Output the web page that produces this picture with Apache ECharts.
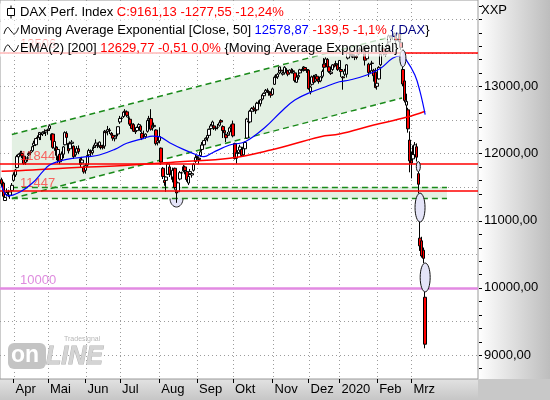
<!DOCTYPE html>
<html><head><meta charset="utf-8">
<script src="https://cdn.jsdelivr.net/npm/echarts@6/dist/echarts.min.js"></script>
<style>html,body{margin:0;padding:0;background:#fff}#c{width:550px;height:400px}</style>
</head><body><div id="c"></div>
<script>
// ---- Daily candles, 21 Mar 2019 .. 12 Mar 2020 (index 0..247) ----
const opens = [
11610,11560,11300,11390,11430,11380,11450,
11600,11680,11790,11950,11990,12000,11960,11870,11930,11980,12010,12040,12120,12130,12240,12240,12290,12290,12320,12320,
12350,12370,12200,12290,12080,12090,11960,11990,11910,11990,12130,12300,12150,12070,12150,12110,11980,12020,12070,11920,11860,11790,
11750,11830,11980,12030,12010,12090,12120,12130,12100,12120,12100,12110,12320,12330,12350,12300,12270,12220,12260,12290,
12470,12520,12550,12620,12620,12540,12510,12440,12430,12340,12340,12390,12410,12300,12260,12250,12330,12500,12520,12380,12400,12350,12160,
12190,12080,11780,11600,11600,11690,11800,11690,11650,11780,11460,11430,11620,11710,11740,11800,11730,11560,11700,11680,11750,11880,
11940,11930,11970,12060,12130,12200,12230,12270,12370,12420,12410,12370,12390,12420,12490,12400,12340,12280,12270,12320,12390,
12440,12150,11930,12000,12050,12060,11980,12070,12230,12470,12470,12630,12680,12650,12650,12750,12740,12810,12860,12910,12940,12920,12900,
12880,13030,13130,13140,13200,13240,13180,13200,13240,13230,13200,13240,13230,13200,13060,13140,13200,13240,13240,13280,13250,
13240,12920,13030,13140,13080,13150,13100,13080,13150,13330,13340,13400,13290,13190,13250,13320,13330,13320,
13280,13250,13140,13180,13180,13420,13500,13480,13470,13440,13450,13480,13530,13540,13550,13490,13410,13330,13230,13340,13240,13210,
13000,13110,13320,13500,13560,13470,13530,13660,13720,13760,13760,13750,13710,13780,13650,13250,13080,12720,12650,12200,
11900,11920,11980,12100,11700,10740,10700,10560,9860];
const closes = [
11549,11364,11346,11420,11419,11428,11526,
11682,11754,11954,11988,12010,11963,11850,11905,11935,11999,12020,12101,12153,12222,12235,12313,12282,12315,12328,12344,
12345,12412,12286,12092,12179,11973,12059,11876,11991,12099,12310,12239,12041,12143,12169,11952,12011,12071,12027,11837,11903,11727,
11820,11971,12043,12009,12045,12097,12155,12115,12169,12096,12086,12331,12309,12355,12340,12274,12228,12245,12271,12399,
12521,12526,12616,12629,12568,12543,12437,12373,12332,12323,12387,12430,12341,12227,12260,12289,12490,12522,12362,12419,12418,12147,12189,
12253,11872,11658,11568,11650,11845,11694,11680,11750,11493,11412,11563,11715,11712,11802,11747,11612,11658,11730,11701,11838,11939,
11953,11911,12025,12126,12192,12226,12268,12360,12410,12469,12380,12372,12390,12457,12468,12342,12307,12235,12289,12381,12428,
12263,11925,12014,12013,12097,11970,12094,12164,12512,12486,12630,12670,12655,12634,12748,12754,12799,12873,12895,12941,12940,12910,12867,
12961,13136,13148,13179,13289,13228,13198,13283,13230,13180,13242,13207,13221,13087,13137,13163,13246,13232,13288,13245,13236,
12965,12989,13140,13055,13167,13105,13071,13141,13221,13283,13407,13287,13222,13212,13319,13300,13337,13249,
13385,13219,13127,13227,13320,13495,13483,13452,13456,13432,13429,13526,13549,13556,13516,13389,13577,13205,13324,13346,13158,12982,
13046,13282,13479,13575,13514,13494,13628,13750,13745,13744,13784,13681,13789,13665,13579,13035,12790,12775,12367,11890,
11858,11986,12128,11945,11542,10625,10475,10439,9161];
const lows = [
11500,11340,11299,11360,11350,11325,11420,
11580,11650,11780,11900,11960,11930,11830,11830,11880,11960,11980,12020,12090,12110,12190,12200,12200,12260,12290,12260,
12280,12340,12140,12070,12040,11900,11860,11840,11900,11930,12120,12220,12000,12060,12110,11920,11950,12010,11990,11800,11840,11700,
11700,11800,11960,11960,11980,12060,12090,12080,12080,12060,12060,12070,12280,12270,12290,12240,12190,12180,12230,12260,
12440,12480,12530,12590,12540,12500,12410,12360,12320,12290,12320,12370,12320,12200,12230,12220,12310,12460,12340,12340,12380,12120,12120,
12150,11830,11620,11520,11430,11680,11650,11610,11570,11460,11266,11420,11600,11670,11720,11690,11580,11530,11680,11640,11730,11860,
11900,11840,11950,12030,12100,12160,12180,12250,12300,12400,12350,12340,12360,12400,12440,12230,12270,12170,12250,12290,12360,
12240,11910,11850,11930,12020,11950,11960,11990,12220,12440,12450,12580,12620,12590,12640,12720,12700,12790,12820,12880,12900,12860,12830,
12870,13020,13100,13110,13180,13200,13160,13180,13200,13150,13180,13190,13190,13060,13050,13100,13190,13210,13220,13230,13200,
12950,12880,13010,13040,13060,13090,13040,13060,13120,13220,13320,13270,13200,13170,13230,13280,13310,13230,
13260,13140,12950,13150,13130,13400,13460,13430,13420,13390,13400,13460,13510,13480,13500,13310,13400,13140,13200,13300,13070,12970,
12950,13100,13300,13490,13460,13440,13520,13650,13680,13700,13740,13640,13700,13600,13540,13000,12760,12640,12310,11720,
11630,11880,11950,11880,11410,10550,10450,10370,9100];
const highs = [
11640,11580,11400,11480,11460,11440,11560,
11720,11770,11980,12000,12040,12040,11980,11920,11960,12030,12050,12110,12190,12230,12270,12320,12300,12330,12360,12350,
12370,12435,12300,12300,12190,12110,12100,12010,12030,12110,12330,12330,12160,12180,12200,12120,12070,12110,12120,11940,11950,11820,
11850,11990,12070,12060,12080,12130,12210,12160,12180,12140,12130,12350,12340,12410,12380,12320,12300,12270,12300,12400,
12560,12550,12630,12660,12640,12580,12530,12480,12450,12380,12400,12450,12420,12330,12340,12300,12500,12560,12660,12450,12460,12360,12230,
12390,12090,11800,11690,11660,11860,11810,11720,11790,11790,11480,11580,11740,11730,11830,11820,11760,11670,11770,11720,11860,11980,
11970,11940,12050,12170,12200,12240,12290,12370,12440,12490,12440,12390,12440,12480,12510,12420,12360,12300,12320,12400,12440,
12490,12160,12020,12050,12130,12080,12110,12180,12530,12520,12650,12690,12710,12670,12770,12790,12810,12890,12910,12960,12970,12940,12920,
12980,13160,13180,13200,13290,13270,13220,13300,13270,13240,13250,13270,13260,13210,13160,13220,13260,13260,13300,13290,13260,
13250,13010,13160,13170,13180,13180,13110,13150,13250,13420,13430,13420,13310,13240,13330,13340,13380,13330,
13390,13300,13150,13260,13330,13500,13530,13500,13490,13460,13470,13530,13580,13560,13600,13500,13590,13350,13330,13380,13260,13270,
13120,13300,13490,13580,13570,13510,13670,13770,13760,13780,13800,13760,13795,13800,13680,13290,13160,12890,12680,12330,
12030,12120,12170,12150,11730,10980,10760,10600,9940];

// ---- Indicators (candle index, value) ----
const ema50Idx = [0,4,11,18,24,28,34,42,50,57,66,73,83,88,92,98,106,114,118,123,133,142,154,163,171,181,189,197,203,213,221,228,233,236,241,244,247];
const ema50 = [11520,11368,11430,11560,11729,11829,11888,11929,11952,11978,12062,12152,12226,12260,12250,12161,12062,11978,11952,12012,12126,12176,12399,12622,12796,12920,12994,13068,13094,13168,13268,13417,13455,13391,13168,12920,12579];
const ema200Idx = [0,18,38,66,104,133,157,186,197,217,236,247];
const ema200 = [11735,11754,11784,11814,11878,11929,12052,12250,12290,12424,12539,12630];

// ---- Drawings ----
const levelPrices = [13506, 11844, 11447, 10000];
const channelIdx = [6, 233.5];
const channelUpper = [12283, 13780];
const channelLower = [11330, 12827];
const bandIdx = [6, 259.7];
const bandTop = 11495, bandBottom = 11330;
const gapDays = [234, 243, 244, 247];   // ellipse between previous low and this high
const bowlIdx = 102, bowlPrice = 11330;

// ---- Axes ----
const monthIdx = [7,27,49,69,92,114,135,158,179,197,219,239];
const monthLabels = ['Apr','Mai','Jun','Jul','Aug','Sep','Okt','Nov','Dez','2020','Feb','Mrz'];
const yLabels = [9000,10000,11000,12000,13000];
const yTicks = [8800,9000,9200,9400,9600,9800,10000,10200,10400,10600,10800,11000,11200,11400,11600,11800,12000,12200,12400,12600,12800,13000,13200,13400,13600,13800,14000,14200];
const gridPrices = [9000,9500,10000,10500,11000,11500,12000,12500,13000,13500,14000];

const FONT = '"Liberation Sans", Arial, sans-serif';
const X_MIN = -0.9155, X_MAX = 277.8, Y_MIN = 8643, Y_MAX = 14285;
const PLOT_W = 478, PLOT_H = 379;

const chart = echarts.init(document.getElementById('c'), null, {width:550, height:400});

const candleData = closes.map((c, i) => [i, opens[i], c, lows[i], highs[i]]);

function gridRender(params, api) {
  const cs = params.coordSys;
  const left = cs.x, right = cs.x + cs.width, top = cs.y, bottom = cs.y + cs.height;
  const dot = {stroke:'#9c9c9c', lineWidth:1, lineDash:[1,3], fill:null};
  const children = [];
  gridPrices.forEach(v => {
    const y = Math.round(api.coord([0, v])[1]) + 0.5;
    children.push({type:'line', shape:{x1:left, y1:y, x2:right, y2:y}, style:dot});
  });
  monthIdx.forEach(i => {
    const x = Math.round(api.coord([i, Y_MIN])[0]) + 0.5;
    children.push({type:'line', shape:{x1:x, y1:top, x2:x, y2:bottom}, style:dot});
  });
  yTicks.forEach(v => {
    const y = Math.round(api.coord([0, v])[1]) + 0.5;
    children.push({type:'line', shape:{x1:right + 1, y1:y, x2:right + 4, y2:y}, style:{stroke:'#000', lineWidth:1}});
  });
  return {type:'group', children};
}

function channelRender(params, api) {
  const u0 = api.coord([channelIdx[0], channelUpper[0]]), u1 = api.coord([channelIdx[1], channelUpper[1]]);
  const l0 = api.coord([channelIdx[0], channelLower[0]]), l1 = api.coord([channelIdx[1], channelLower[1]]);
  const b0 = api.coord([bandIdx[0], bandTop]), b1 = api.coord([bandIdx[1], bandTop]);
  const b2 = api.coord([bandIdx[1], bandBottom]), b3 = api.coord([bandIdx[0], bandBottom]);
  const fill = '#e3f0e3';
  const dash = {stroke:'#1a8a1a', lineWidth:1.5, lineDash:[6,4], fill:null};
  const ln = (a, b) => ({type:'line', shape:{x1:a[0], y1:a[1], x2:b[0], y2:b[1]}, style:dash});
  return {type:'group', children:[
    {type:'polygon', shape:{points:[u0,u1,l1,l0]}, style:{fill:fill}},
    {type:'polygon', shape:{points:[b0,b1,b2,b3]}, style:{fill:fill}},
    ln(u0,u1), ln(l0,l1), ln(b0,b1), ln(b3,b2)
  ]};
}

function bowlRender(params, api) {
  const c = api.coord([bowlIdx, bowlPrice]);
  return {type:'ellipse', shape:{cx:c[0], cy:c[1], rx:6.5, ry:8.5}, style:{fill:'#e4e4f8', stroke:'#222', lineWidth:1}};
}

function gapRender(params, api) {
  const d = api.value(0);
  const top = api.coord([d, lows[d-1]]);
  const bot = api.coord([d, highs[d]]);
  const h = bot[1] - top[1];
  const rx = Math.min(5, Math.max(2, h * 0.18));
  return {type:'ellipse', shape:{cx:top[0], cy:(top[1]+bot[1])/2, rx:rx, ry:h/2}, style:{fill:'#e4e4f8', stroke:'#111', lineWidth:1}};
}

const levelStyles = [
  {color:'#ff0000', width:1.5, label:'rgba(255,40,40,0.7)'},
  {color:'#ff0000', width:1.5, label:'rgba(255,40,40,0.7)'},
  {color:'#ff0000', width:1.5, label:'rgba(255,40,40,0.7)'},
  {color:'#e28ae2', width:2.5, label:'rgba(214,110,214,0.8)'}
];

const option = {
  animation: false,
  textStyle: {fontFamily: FONT},
  grid: {left:0, top:0, width:PLOT_W, height:PLOT_H, show:true, borderColor:'#9a9a9a', borderWidth:1, backgroundColor:'transparent'},
  xAxis: {
    type:'value', min:X_MIN, max:X_MAX, z:3,
    axisLine:{show:false}, splitLine:{show:false},
    axisTick:{show:true, customValues:monthIdx, length:4, lineStyle:{color:'#000'}},
    axisLabel:{customValues:monthIdx, formatter:(v) => monthLabels[monthIdx.indexOf(v)], align:'left', margin:4, padding:[0,0,0,2], color:'#000', fontSize:13, fontFamily:FONT}
  },
  yAxis: {
    type:'value', position:'right', min:Y_MIN, max:Y_MAX, z:3,
    axisLine:{show:false}, splitLine:{show:false}, axisTick:{show:false},
    axisLabel:{customValues:yLabels, formatter:(v) => v.toFixed(2).replace('.', ','), margin:6, color:'#000', fontSize:13, fontFamily:FONT}
  },
  series: [
    {type:'custom', name:'grid', z:1, silent:true, clip:false, data:[[0, Y_MIN]], encode:{x:0, y:1}, renderItem:gridRender},
    {type:'custom', name:'bowl', z:2, silent:true, data:[[bowlIdx, bowlPrice]], encode:{x:0, y:1}, renderItem:bowlRender},
    {type:'custom', name:'channel', z:3, silent:true, data:[[channelIdx[0], channelLower[0]]], encode:{x:0, y:1}, renderItem:channelRender},
    {type:'candlestick', name:'DAX', z:4, data:candleData, barWidth:3,
     itemStyle:{color:'#ffffff', color0:'#ff0000', borderColor:'#000', borderColor0:'#000', borderWidth:1}},
    {type:'line', name:'levels', data:[], silent:true, z:5,
     markLine:{silent:true, symbol:'none', z:5, animation:false,
       data: levelPrices.map((v, k) => ({yAxis:v,
         lineStyle:{color:levelStyles[k].color, width:levelStyles[k].width, type:'solid'},
         label:{show:true, position:'insideStartTop', distance:[20,1], formatter:String(v), color:levelStyles[k].label, fontSize:13, fontFamily:FONT}}))}},
    {type:'line', name:'EMA200', z:6, silent:true, data: ema200Idx.map((x, k) => [x, ema200[k]]), smooth:0.4, showSymbol:false, lineStyle:{color:'#ff0000', width:1.5}},
    {type:'line', name:'EMA50', z:6, silent:true, data: ema50Idx.map((x, k) => [x, ema50[k]]), smooth:0.4, showSymbol:false, lineStyle:{color:'#0000ff', width:1.2}},
    {type:'custom', name:'gaps', z:7, silent:true, data: gapDays.map(d => [d, highs[d]]), encode:{x:0, y:1}, renderItem:gapRender}
  ],
  graphic: [
    // axis panels
    {type:'rect', z:-5, shape:{x:PLOT_W, y:0, width:550-PLOT_W, height:PLOT_H}, style:{fill:new echarts.graphic.LinearGradient(0,0,1,0,[{offset:0,color:'#ffffff'},{offset:1,color:'#bdbdbd'}])}},
    {type:'rect', z:-5, shape:{x:0, y:PLOT_H, width:PLOT_W, height:400-PLOT_H}, style:{fill:new echarts.graphic.LinearGradient(0,0,0,1,[{offset:0,color:'#e2e2e2'},{offset:1,color:'#c6c6c6'}])}},
    {type:'rect', z:-5, shape:{x:PLOT_W, y:PLOT_H, width:550-PLOT_W, height:400-PLOT_H}, style:{fill:'#c8c8c8'}},
    {type:'text', z:10, style:{x:481, y:10, text:'XXP', verticalAlign:'middle', fill:'#000', fontSize:13, fontFamily:FONT}},
    // logo
    {type:'text', z:2, style:{x:64, y:339, text:'Tradesignal', verticalAlign:'middle', fill:'#b8b8b8', fontSize:7, fontFamily:FONT}},
    {type:'rect', z:2, shape:{x:8, y:343, width:38, height:26, r:6}, style:{fill:'#c4c4c4'}},
    {type:'text', z:2, style:{x:11, y:356, text:'on', verticalAlign:'middle', fill:'#ffffff', fontSize:23, fontWeight:'bold', fontFamily:FONT}},
    {type:'text', z:2, style:{x:46, y:357, text:'LINE', verticalAlign:'middle', fill:'#d4d4d4', stroke:'#b4b4b4', lineWidth:1, fontSize:25, fontWeight:'bold', fontStyle:'italic', fontFamily:FONT}},
    // legend
    {type:'text', z:100, style:{x:0, y:12, verticalAlign:'middle', padding:[2,4,2,20], backgroundColor:'rgba(255,255,255,0.72)',
      fontSize:13, fontFamily:FONT,
      text:'{k|DAX Perf. Index }{r|C:9161,13 -1277,55 -12,24%}',
      rich:{k:{fill:'#000', fontSize:13, fontFamily:FONT}, r:{fill:'#ff0000', fontSize:13, fontFamily:FONT}}}},
    {type:'text', z:100, style:{x:0, y:30.5, verticalAlign:'middle', padding:[2,4,2,20], backgroundColor:'rgba(255,255,255,0.72)',
      fontSize:13, fontFamily:FONT,
      text:'{k|Moving Average Exponential [Close, 50] }{b|12578,87}{r| -139,5 -1,1%}{n| {,DAX}}',
      rich:{k:{fill:'#000', fontSize:13, fontFamily:FONT}, b:{fill:'#0000ff', fontSize:13, fontFamily:FONT}, r:{fill:'#ff0000', fontSize:13, fontFamily:FONT}, n:{fill:'#000080', fontSize:13, fontFamily:FONT}}}},
    {type:'text', z:100, style:{x:0, y:48, verticalAlign:'middle', padding:[2,4,2,20], backgroundColor:'rgba(255,255,255,0.72)',
      fontSize:13, fontFamily:FONT,
      text:'{k|EMA(2) [200] }{r|12629,77 -0,51 0,0%}{k| {Moving Average Exponential}}',
      rich:{k:{fill:'#000', fontSize:13, fontFamily:FONT}, r:{fill:'#ff0000', fontSize:13, fontFamily:FONT}}}},
    // legend icons
    {type:'line', z:101, shape:{x1:11, y1:5.5, x2:11, y2:18.5}, style:{stroke:'#000', lineWidth:1}},
    {type:'rect', z:102, shape:{x:7.5, y:8.5, width:7, height:7}, style:{fill:'#fff', stroke:'#000', lineWidth:1}},
    {type:'polyline', z:101, shape:{points:[[4,34],[7.5,27.5],[11,31],[14.5,34],[18.5,27.5]], smooth:0.5}, style:{stroke:'#000', lineWidth:1, fill:null}},
    {type:'polyline', z:101, shape:{points:[[4,51.5],[7.5,45],[11,48.5],[14.5,51.5],[18.5,45]], smooth:0.5}, style:{stroke:'#000', lineWidth:1, fill:null}}
  ]
};
chart.setOption(option);
</script></body></html>
